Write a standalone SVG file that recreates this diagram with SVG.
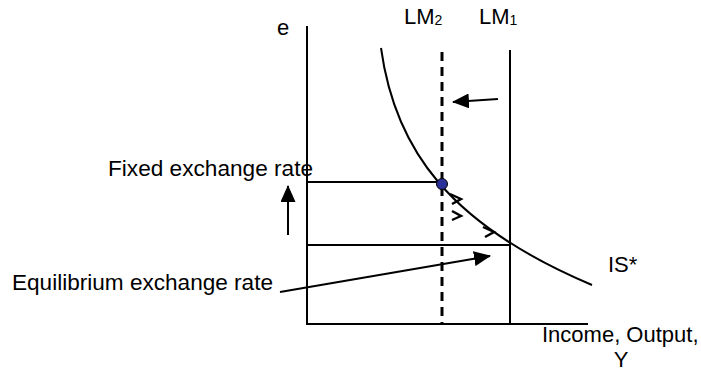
<svg xmlns="http://www.w3.org/2000/svg" width="701" height="371" viewBox="0 0 701 371">
<style>
text{font-family:"Liberation Sans",Arial,sans-serif;font-size:22px;fill:#000}
.ln{stroke:#000;stroke-width:2;fill:none}
.ch{stroke:#000;stroke-width:2.4;fill:none;stroke-linejoin:miter}
</style>
<defs>
<marker id="ah" markerUnits="userSpaceOnUse" markerWidth="17" markerHeight="15" refX="16" refY="7.5" orient="auto">
<path d="M0,0 L17,7.5 L0,15 Z" fill="#000"/>
</marker>
</defs>
<rect width="701" height="371" fill="#fff"/>
<g id="axes">
<line class="ln" x1="307" y1="26" x2="307" y2="325"/>
<line class="ln" x1="306" y1="324" x2="588" y2="324"/>
</g>
<g id="connectors">
<line class="ln" x1="498" y1="99" x2="453" y2="102" stroke-width="2.5" marker-end="url(#ah)"/>
<line class="ln" x1="288" y1="235" x2="288" y2="186" stroke-width="2.5" marker-end="url(#ah)"/>
<line class="ln" x1="280" y1="292" x2="490" y2="256" stroke-width="1.6" marker-end="url(#ah)"/>
<line class="ln" x1="307" y1="182" x2="442" y2="182"/>
<line class="ln" x1="307" y1="245" x2="511" y2="245"/>
<polyline class="ch" points="450,194 461,199 452,204"/>
<polyline class="ch" points="452,211 461,216 452,220"/>
<polyline class="ch" points="483,227 494,232 485,237"/>
</g>
<g id="LM1">
<line class="ln" x1="510" y1="50" x2="510" y2="324"/>
<text x="479" y="24">LM<tspan font-size="14" dy="1">1</tspan></text>
</g>
<g id="LM2">
<line x1="442" y1="52" x2="442" y2="324" stroke="#000" stroke-width="3" stroke-dasharray="9 6"/>
<text x="404" y="24">LM<tspan font-size="14" dy="1">2</tspan></text>
</g>
<g id="IS">
<path class="ln" d="M381,48 C395,150 450,225 592,285" stroke-width="2.5"/>
<text x="608" y="272">IS*</text>
</g>
<g id="equilibrium-point">
<circle cx="442" cy="184" r="5.5" fill="#2b2f9a" stroke="#000" stroke-width="1"/>
</g>
<g id="labels">
<text x="277" y="35">e</text>
<text x="108" y="176" textLength="205" lengthAdjust="spacingAndGlyphs">Fixed exchange rate</text>
<text x="12" y="290" textLength="261" lengthAdjust="spacingAndGlyphs">Equilibrium exchange rate</text>
<text x="542" y="342">Income, Output,</text>
<text x="621" y="367" text-anchor="middle">Y</text>
</g>
</svg>
